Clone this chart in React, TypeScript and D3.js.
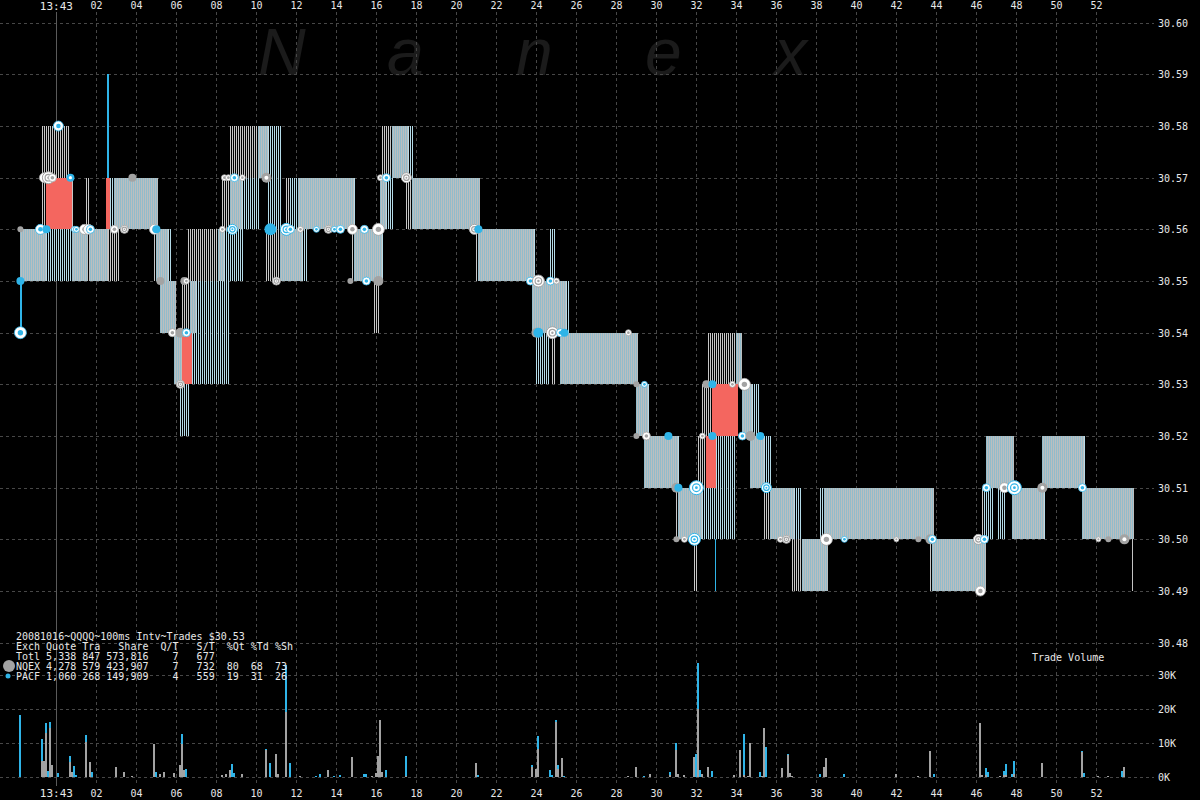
import React from "react";
import * as d3 from "d3";

// ---- axis data (time = seconds after 13:43:00) ----
const xTickSecs = [2, 4, 6, 8, 10, 12, 14, 16, 18, 20, 22, 24, 26, 28, 30, 32, 34, 36, 38, 40, 42, 44, 46, 48, 50, 52];
const xTickLabels = ["02", "04", "06", "08", "10", "12", "14", "16", "18", "20", "22", "24", "26", "28", "30", "32", "34", "36", "38", "40", "42", "44", "46", "48", "50", "52"];
const priceTicks = [30.6, 30.59, 30.58, 30.57, 30.56, 30.55, 30.54, 30.53, 30.52, 30.51, 30.5, 30.49, 30.48];
const volTicks = [0, 10, 20, 30];
const volTickLabels = ["0K", "10K", "20K", "30K"];

// ---- quote segments: [tStart, tEnd, low, high, style]  d=dense, b=blue, g=gray, r=red, B=blue line ----
const quoteSegments: [number, number, number, number, string][] = [
  [-1.8, -1.7, 30.54, 30.55, "B"],
  [-1.8, -0.5, 30.55, 30.56, "d"],
  [-0.5, 0.8, 30.55, 30.56, "b"],
  [0.8, 1.6, 30.55, 30.56, "d"],
  [1.65, 2.6, 30.55, 30.56, "d"],
  [2.6, 3.2, 30.55, 30.56, "g"],
  [-0.7, -0.5, 30.56, 30.57, "g"],
  [-0.7, 0.7, 30.57, 30.58, "g"],
  [-0.5, 0.8, 30.56, 30.57, "r"],
  [0.8, 0.9, 30.56, 30.57, "g"],
  [1.5, 1.7, 30.56, 30.57, "g"],
  [2.55, 2.62, 30.57, 30.59, "B"],
  [2.5, 2.7, 30.56, 30.57, "r"],
  [2.7, 2.9, 30.56, 30.57, "b"],
  [2.9, 5.1, 30.56, 30.57, "d"],
  [4.9, 5.0, 30.55, 30.56, "g"],
  [5.0, 5.6, 30.55, 30.56, "d"],
  [5.6, 5.8, 30.55, 30.56, "b"],
  [5.2, 6.0, 30.54, 30.55, "d"],
  [5.9, 6.3, 30.53, 30.54, "d"],
  [6.3, 6.8, 30.53, 30.54, "r"],
  [6.2, 6.7, 30.52, 30.53, "b"],
  [6.3, 6.7, 30.54, 30.55, "g"],
  [6.7, 7.0, 30.54, 30.55, "d"],
  [6.6, 8.1, 30.55, 30.56, "g"],
  [8.1, 8.4, 30.55, 30.56, "d"],
  [8.4, 9.4, 30.55, 30.56, "b"],
  [7.0, 8.7, 30.54, 30.55, "b"],
  [6.8, 8.7, 30.53, 30.54, "b"],
  [8.3, 8.7, 30.56, 30.57, "g"],
  [8.7, 9.3, 30.56, 30.57, "d"],
  [9.3, 10.2, 30.56, 30.57, "b"],
  [8.7, 10.1, 30.57, 30.58, "g"],
  [10.1, 10.6, 30.57, 30.58, "d"],
  [10.6, 11.3, 30.56, 30.58, "b"],
  [10.5, 11.2, 30.55, 30.56, "g"],
  [11.2, 12.3, 30.55, 30.56, "d"],
  [12.3, 12.6, 30.55, 30.56, "b"],
  [11.5, 11.7, 30.56, 30.57, "g"],
  [11.7, 12.1, 30.56, 30.57, "b"],
  [12.1, 14.9, 30.56, 30.57, "d"],
  [14.9, 15.0, 30.56, 30.57, "b"],
  [14.8, 14.9, 30.55, 30.56, "g"],
  [14.9, 16.3, 30.55, 30.56, "d"],
  [16.3, 16.4, 30.55, 30.56, "b"],
  [15.9, 16.2, 30.54, 30.55, "g"],
  [16.3, 16.8, 30.57, 30.58, "g"],
  [16.8, 17.6, 30.57, 30.58, "d"],
  [17.6, 17.9, 30.57, 30.58, "b"],
  [16.2, 16.5, 30.56, 30.57, "d"],
  [16.5, 16.9, 30.56, 30.57, "b"],
  [17.5, 17.8, 30.56, 30.57, "g"],
  [17.8, 21.2, 30.56, 30.57, "d"],
  [21.0, 21.1, 30.55, 30.56, "g"],
  [21.1, 23.9, 30.55, 30.56, "d"],
  [23.9, 24.0, 30.55, 30.56, "b"],
  [24.7, 25.0, 30.55, 30.56, "b"],
  [23.8, 25.5, 30.54, 30.55, "d"],
  [25.5, 25.7, 30.54, 30.55, "b"],
  [24.0, 24.7, 30.53, 30.54, "b"],
  [24.8, 25.0, 30.53, 30.54, "g"],
  [25.2, 29.1, 30.53, 30.54, "d"],
  [29.0, 29.6, 30.52, 30.53, "d"],
  [29.6, 29.7, 30.52, 30.53, "b"],
  [29.4, 31.1, 30.51, 30.52, "d"],
  [31.1, 31.2, 30.51, 30.52, "b"],
  [31.0, 31.1, 30.5, 30.51, "g"],
  [31.1, 32.3, 30.5, 30.51, "d"],
  [32.3, 34.0, 30.5, 30.51, "b"],
  [31.9, 32.1, 30.49, 30.5, "g"],
  [32.93, 33.0, 30.49, 30.5, "B"],
  [32.6, 34.0, 30.53, 30.54, "g"],
  [34.0, 34.3, 30.53, 30.54, "d"],
  [32.8, 34.1, 30.52, 30.53, "r"],
  [32.3, 32.8, 30.52, 30.53, "g"],
  [34.3, 34.8, 30.52, 30.53, "d"],
  [34.8, 35.2, 30.52, 30.53, "b"],
  [32.1, 32.5, 30.51, 30.52, "g"],
  [32.5, 33.0, 30.51, 30.52, "r"],
  [33.0, 34.0, 30.51, 30.52, "b"],
  [34.7, 35.4, 30.51, 30.52, "d"],
  [35.4, 35.8, 30.51, 30.52, "b"],
  [35.4, 35.7, 30.5, 30.51, "g"],
  [35.7, 36.9, 30.5, 30.51, "d"],
  [36.9, 37.3, 30.5, 30.51, "b"],
  [38.2, 38.4, 30.5, 30.51, "b"],
  [38.4, 43.9, 30.5, 30.51, "d"],
  [36.8, 37.3, 30.49, 30.5, "g"],
  [37.3, 38.6, 30.49, 30.5, "d"],
  [43.7, 43.8, 30.49, 30.5, "g"],
  [43.8, 46.5, 30.49, 30.5, "d"],
  [46.5, 47.9, 30.51, 30.52, "d"],
  [49.3, 51.4, 30.51, 30.52, "d"],
  [51.4, 51.5, 30.51, 30.52, "b"],
  [46.3, 46.4, 30.5, 30.51, "g"],
  [46.4, 46.9, 30.5, 30.51, "b"],
  [47.1, 47.5, 30.5, 30.51, "b"],
  [47.8, 49.4, 30.5, 30.51, "d"],
  [49.4, 49.5, 30.5, 30.51, "b"],
  [51.3, 53.9, 30.5, 30.51, "d"],
  [53.8, 53.85, 30.49, 30.5, "G"],
];

// ---- trades: [t, price, exchange, radius, style]  s=solid, w=white w/ dot, o=rings, c=colored w/ white dot ----
const trades: [number, number, string, number, string][] = [
  [-1.8, 30.54, "P", 6, "w"], [-1.8, 30.55, "P", 4, "s"], [-1.8, 30.56, "N", 3, "s"],
  [-0.8, 30.56, "P", 5, "w"], [-0.5, 30.56, "P", 4, "s"], [0.1, 30.58, "P", 5, "w"],
  [-0.6, 30.57, "N", 5, "w"], [-0.4, 30.57, "N", 6, "o"], [-0.2, 30.57, "N", 4, "w"],
  [0.7, 30.57, "P", 4, "c"], [0.9, 30.56, "P", 3, "w"], [1.0, 30.56, "P", 3, "w"],
  [1.4, 30.56, "N", 5, "w"], [1.6, 30.56, "N", 5, "w"], [1.7, 30.56, "P", 4, "w"],
  [2.9, 30.56, "N", 4, "w"], [3.4, 30.56, "N", 4, "o"], [3.8, 30.57, "N", 4, "s"],
  [4.9, 30.56, "N", 5, "w"], [5.0, 30.56, "P", 4, "s"], [5.2, 30.55, "N", 4, "s"],
  [6.4, 30.55, "N", 4, "s"], [6.5, 30.55, "N", 3, "w"], [5.8, 30.54, "N", 4, "w"],
  [6.2, 30.54, "N", 5, "s"], [6.5, 30.54, "P", 4, "w"], [6.2, 30.53, "N", 4, "o"],
  [8.3, 30.56, "N", 3, "w"], [8.8, 30.56, "P", 5, "o"], [8.4, 30.57, "N", 3, "w"],
  [8.6, 30.57, "N", 3, "w"], [8.9, 30.57, "P", 4, "w"], [9.3, 30.57, "N", 3, "w"],
  [10.5, 30.57, "N", 5, "c"], [10.7, 30.56, "P", 6, "s"], [11.5, 30.56, "P", 6, "o"],
  [11.0, 30.55, "N", 4, "o"], [11.7, 30.56, "P", 4, "w"], [12.2, 30.56, "N", 3, "w"],
  [13.0, 30.56, "P", 3, "w"], [13.6, 30.56, "N", 4, "o"], [13.9, 30.56, "P", 3, "w"],
  [14.2, 30.56, "P", 4, "w"], [14.8, 30.56, "N", 5, "w"], [15.4, 30.56, "P", 4, "w"],
  [16.1, 30.56, "N", 6, "w"], [14.7, 30.55, "N", 3, "s"], [15.5, 30.55, "P", 4, "w"],
  [16.1, 30.55, "N", 5, "s"], [16.2, 30.57, "N", 3, "w"], [16.5, 30.57, "P", 4, "w"],
  [17.5, 30.57, "N", 5, "o"], [20.9, 30.56, "N", 5, "o"], [21.1, 30.56, "P", 4, "s"],
  [23.7, 30.55, "P", 4, "w"], [24.1, 30.55, "N", 6, "o"], [24.7, 30.55, "P", 4, "w"],
  [25.0, 30.55, "N", 3, "w"], [24.0, 30.54, "N", 5, "s"], [24.1, 30.54, "P", 5, "s"],
  [24.8, 30.54, "N", 6, "o"], [25.2, 30.54, "P", 4, "w"], [25.4, 30.54, "P", 4, "s"],
  [28.6, 30.54, "N", 3, "w"], [29.0, 30.53, "N", 3, "s"], [29.4, 30.53, "P", 3, "w"],
  [29.0, 30.52, "N", 3, "s"], [29.5, 30.52, "N", 4, "w"], [30.6, 30.52, "P", 4, "s"],
  [31.0, 30.51, "N", 5, "s"], [31.1, 30.51, "P", 4, "s"], [32.0, 30.51, "P", 7, "o"],
  [31.0, 30.5, "N", 3, "s"], [31.4, 30.5, "N", 3, "w"], [31.9, 30.5, "P", 6, "o"],
  [32.5, 30.53, "N", 4, "s"], [32.8, 30.53, "P", 4, "s"], [32.3, 30.52, "N", 3, "w"],
  [32.8, 30.52, "P", 4, "s"], [33.8, 30.53, "N", 3, "w"], [34.4, 30.53, "N", 6, "w"],
  [34.3, 30.52, "P", 4, "w"], [34.7, 30.52, "N", 5, "s"], [35.2, 30.52, "P", 4, "s"],
  [35.5, 30.51, "P", 5, "o"], [36.2, 30.5, "N", 3, "w"], [36.5, 30.5, "N", 4, "o"],
  [38.5, 30.5, "N", 6, "w"], [39.4, 30.5, "P", 3, "w"], [42.0, 30.5, "N", 2.5, "w"],
  [43.1, 30.5, "N", 3, "s"], [43.7, 30.5, "N", 5, "s"], [43.8, 30.5, "P", 4, "w"],
  [46.2, 30.49, "N", 5, "w"], [46.1, 30.5, "N", 5, "o"], [46.4, 30.5, "P", 4, "w"],
  [46.5, 30.51, "P", 4, "w"], [47.4, 30.51, "N", 5, "w"], [47.9, 30.51, "P", 7, "o"],
  [49.3, 30.51, "N", 5, "c"], [51.3, 30.51, "P", 4, "w"], [52.1, 30.5, "N", 2.5, "w"],
  [52.6, 30.5, "N", 3, "s"], [53.4, 30.5, "N", 5, "c"],
];

// ---- volume (thousands of shares per 100ms): time, NQEX, PACF ----
const volT = [-1.8, -0.7, -0.6, -0.5, -0.4, -0.3, -0.2, 0.1, 0.7, 0.8, 0.9, 1.0, 1.5, 1.7, 1.8, 3.0, 3.4, 3.8, 4.9, 5.0, 5.2, 5.4, 5.9, 6.2, 6.3, 6.4, 6.5, 8.3, 8.5, 8.7, 8.8, 8.9, 9.3, 10.5, 10.7, 11.0, 11.1, 11.5, 11.7, 12.2, 13.0, 13.2, 13.6, 13.9, 14.2, 14.8, 15.4, 15.5, 15.8, 16.0, 16.1, 16.2, 16.3, 16.5, 17.5, 21.0, 21.1, 23.8, 24.0, 24.1, 24.7, 24.8, 25.0, 25.1, 25.3, 25.4, 28.6, 29.0, 29.4, 29.7, 30.7, 31.0, 31.1, 31.4, 31.9, 32.0, 32.1, 32.2, 32.3, 32.6, 32.8, 33.9, 34.2, 34.4, 34.6, 34.7, 35.2, 35.3, 35.4, 35.5, 36.3, 36.6, 36.7, 36.8, 38.2, 38.4, 38.5, 39.4, 42.0, 43.1, 43.7, 43.9, 46.2, 46.3, 46.5, 46.6, 47.2, 47.4, 47.5, 47.8, 47.9, 49.3, 51.3, 51.4, 52.1, 52.6, 53.3, 53.4];
const volN = [0, 4.8, 4.8, 13, 0, 14.4, 3.5, 0, 4.4, 1.5, 0, 0, 10.4, 4.5, 0, 3.0, 1.6, 0.4, 9.7, 0, 0.9, 1.5, 1.2, 3.5, 9.7, 2.0, 0, 0.5, 1.0, 2.0, 0, 0, 0.8, 8.0, 0, 6.8, 1.0, 19, 0, 0.3, 0, 0, 2.0, 0, 0, 5.9, 0, 0, 0.3, 1.3, 6.2, 16.8, 1.5, 0, 0.4, 4.1, 0, 3.0, 2.5, 8.2, 0, 0, 16.2, 2.5, 5.5, 0, 0.4, 2.9, 0, 0.8, 0.5, 7.8, 0.8, 0.6, 5.9, 0, 20, 0, 0.8, 2.8, 0, 0.6, 7.9, 0.6, 0.3, 10, 0, 0.3, 14.4, 0, 2.6, 6.5, 1.2, 0.3, 0, 2.9, 5.5, 0, 0.8, 0.2, 7.6, 0, 16, 0.5, 0.6, 0, 0.3, 0.5, 0.5, 0, 0.8, 4.1, 7.3, 0, 0.2, 0.2, 0, 2.9];
const volP = [18.2, 6.4, 0, 2.9, 1.7, 1.8, 0, 1.2, 1.8, 0, 3.2, 0.6, 2.0, 0, 1.6, 0, 0, 0, 0, 1.6, 0, 0, 0, 0, 2.9, 0, 2.4, 0, 0, 0, 3.9, 1.2, 0, 0.3, 4.2, 0, 0, 14, 4.2, 0, 0.3, 0.8, 0, 0.3, 0.7, 0, 1.0, 1.0, 0, 0, 0, 0, 0, 2.1, 5.8, 0, 0.5, 0.5, 0, 3.8, 2.1, 0.5, 0.6, 1.0, 0, 0.3, 0, 0, 0.2, 0, 1.0, 2.2, 0, 0, 0, 6.8, 13.5, 2.1, 0, 0, 1.8, 0, 0, 12, 0, 0, 1.5, 0, 0, 8.8, 0, 0.3, 0, 0, 1.0, 0, 0, 1.0, 0, 0, 0, 1.0, 0, 0, 2.0, 1.5, 0, 1.2, 3.4, 0.8, 4.0, 0, 0.3, 1.2, 0, 0, 1.7, 0];

// ---- legend text ----
const legendLines = [
  "20081016~QQQQ~100ms Intv~Trades $30.53",
  "Exch Quote Tra   Share  Q/T   S/T  %Qt %Td %Sh",
  "Totl 5,338 847 573,816    7   677",
  "NQEX 4,278 579 423,907    7   732  80  68  73",
  "PACF 1,060 268 149,909    4   559  19  31  26",
];
const watermarkLetters = ["N", "a", "n", "e", "x"];

const COL_N = "#a3a3a3";
const COL_P = "#2fb4e8";
const COL_RED = "#f4665f";
const MONO = "'DejaVu Sans Mono', monospace";

export default function App() {
  const xs = d3.scaleLinear().domain([0, 52]).range([56.4, 1096.4]);
  const ys = d3.scaleLinear().domain([30.48, 30.6]).range([642.7, 22.7]);
  const vs = d3.scaleLinear().domain([0, 30]).range([777, 675]);
  const exColor = (e: string) => (e === "N" ? COL_N : COL_P);
  const fillFor = (s: string) =>
    s === "d" ? "url(#pDense)" : s === "b" ? "url(#pBlue)" : s === "g" ? "url(#pGray)" : s === "r" ? COL_RED : s === "B" ? COL_P : "#c4c4c4";

  const gridX0 = 0, gridX1 = 1154;
  return (
    <svg width={1200} height={800} style={{ position: "absolute", left: 0, top: 0, background: "#000" }}>
      <defs>
        <pattern id="pDense" patternUnits="userSpaceOnUse" width={2} height={4}>
          <rect x={0} y={0} width={1} height={4} fill="#92bccb" />
          <rect x={1} y={0} width={1} height={4} fill="#bcbebf" />
        </pattern>
        <pattern id="pBlue" patternUnits="userSpaceOnUse" width={2} height={4}>
          <rect x={0} y={0} width={1} height={4} fill="#b4dbe8" />
        </pattern>
        <pattern id="pGray" patternUnits="userSpaceOnUse" width={2} height={4}>
          <rect x={0} y={0} width={1} height={4} fill="#c6c6c6" />
        </pattern>
      </defs>
      <rect x={0} y={0} width={1200} height={800} fill="#000" />

      {/* watermark */}
      {watermarkLetters.map((l, i) => (
        <text key={l + i} x={258 + i * 129} y={75} fontFamily="'Liberation Sans', sans-serif" fontStyle="italic" fontSize={66} fill="#1b1b1b">
          {l}
        </text>
      ))}

      {/* grid */}
      <g stroke="#474747" strokeDasharray="3,3" strokeWidth={1} shapeRendering="crispEdges">
        {priceTicks.map((p) => (
          <line key={"hp" + p} x1={gridX0} x2={gridX1} y1={Math.round(ys(p)) + 0.5} y2={Math.round(ys(p)) + 0.5} />
        ))}
        {volTicks.map((v) => (
          <line key={"hv" + v} x1={gridX0} x2={gridX1} y1={Math.round(vs(v)) + 0.5} y2={Math.round(vs(v)) + 0.5} />
        ))}
        {xTickSecs.map((t) => (
          <line key={"vx" + t} x1={Math.round(xs(t)) + 0.5} x2={Math.round(xs(t)) + 0.5} y1={12} y2={785} />
        ))}
      </g>
      <line x1={Math.round(xs(0)) + 0.5} x2={Math.round(xs(0)) + 0.5} y1={12} y2={786} stroke="#5a5a5a" strokeWidth={1} />

      {/* quotes */}
      <g shapeRendering="crispEdges">
        {quoteSegments.map((s, i) => {
          const x0 = Math.round(xs(s[0]));
          const x1 = Math.max(x0 + 1, Math.round(xs(s[1])));
          const y0 = Math.round(ys(s[3]));
          const y1 = Math.round(ys(s[2]));
          return <rect key={"q" + i} x={x0} y={y0} width={x1 - x0} height={y1 - y0} fill={fillFor(s[4])} />;
        })}
      </g>

      {/* trades */}
      <g>
        {trades.map((d, i) => {
          const cx = xs(d[0]);
          const cy = ys(d[1]);
          const r = d[3];
          const c = exColor(d[2]);
          if (d[4] === "s") return <circle key={"t" + i} cx={cx} cy={cy} r={r} fill={c} />;
          if (d[4] === "c")
            return (
              <g key={"t" + i}>
                <circle cx={cx} cy={cy} r={r} fill={c} />
                <circle cx={cx} cy={cy} r={r * 0.4} fill="#fff" />
              </g>
            );
          if (d[4] === "o")
            return (
              <g key={"t" + i}>
                <circle cx={cx} cy={cy} r={r} fill="#fff" stroke={c} strokeWidth={1} />
                <circle cx={cx} cy={cy} r={r * 0.55} fill="none" stroke={c} strokeWidth={1.2} />
                <circle cx={cx} cy={cy} r={r * 0.2} fill={c} />
              </g>
            );
          return (
            <g key={"t" + i}>
              <circle cx={cx} cy={cy} r={r} fill="#fff" stroke={c} strokeWidth={0.8} />
              <circle cx={cx} cy={cy} r={r * 0.45} fill={c} />
            </g>
          );
        })}
      </g>

      {/* volume bars */}
      <g shapeRendering="crispEdges">
        {volT.map((t, i) => {
          const x = Math.round(xs(t)) - 1;
          const n = volN[i];
          const p = volP[i];
          return (
            <g key={"v" + i}>
              {n > 0 && <rect x={x} y={vs(n)} width={2} height={vs(0) - vs(n)} fill={COL_N} />}
              {p > 0 && <rect x={x} y={vs(n + p)} width={2} height={vs(n) - vs(n + p)} fill={COL_P} />}
            </g>
          );
        })}
      </g>

      {/* axis labels */}
      <g fontFamily={MONO} fontSize={10} fill="#e8e8e8">
        <text x={xs(0)} y={10} textAnchor="middle" fontSize={11}>13:43</text>
        <text x={xs(0)} y={797} textAnchor="middle" fontSize={11}>13:43</text>
        {xTickSecs.map((t, i) => (
          <g key={"xl" + t}>
            <text x={xs(t)} y={9} textAnchor="middle">{xTickLabels[i]}</text>
            <text x={xs(t)} y={797} textAnchor="middle">{xTickLabels[i]}</text>
          </g>
        ))}
        {priceTicks.map((p) => (
          <text key={"pl" + p} x={1158} y={ys(p) + 4}>{p.toFixed(2)}</text>
        ))}
        {volTicks.map((v, i) => (
          <text key={"vl" + v} x={1158} y={vs(v) + 4}>{volTickLabels[i]}</text>
        ))}
        <text x={1032} y={661}>Trade Volume</text>
      </g>

      {/* legend */}
      <g fontFamily={MONO} fontSize={10} fill="#e8e8e8" style={{ whiteSpace: "pre" }}>
        {legendLines.map((l, i) => (
          <text key={"lg" + i} x={16} y={640 + i * 10} xmlSpace="preserve">{l}</text>
        ))}
      </g>
      <circle cx={9} cy={666} r={6} fill={COL_N} />
      <circle cx={8} cy={676} r={2.5} fill={COL_P} />
    </svg>
  );
}
